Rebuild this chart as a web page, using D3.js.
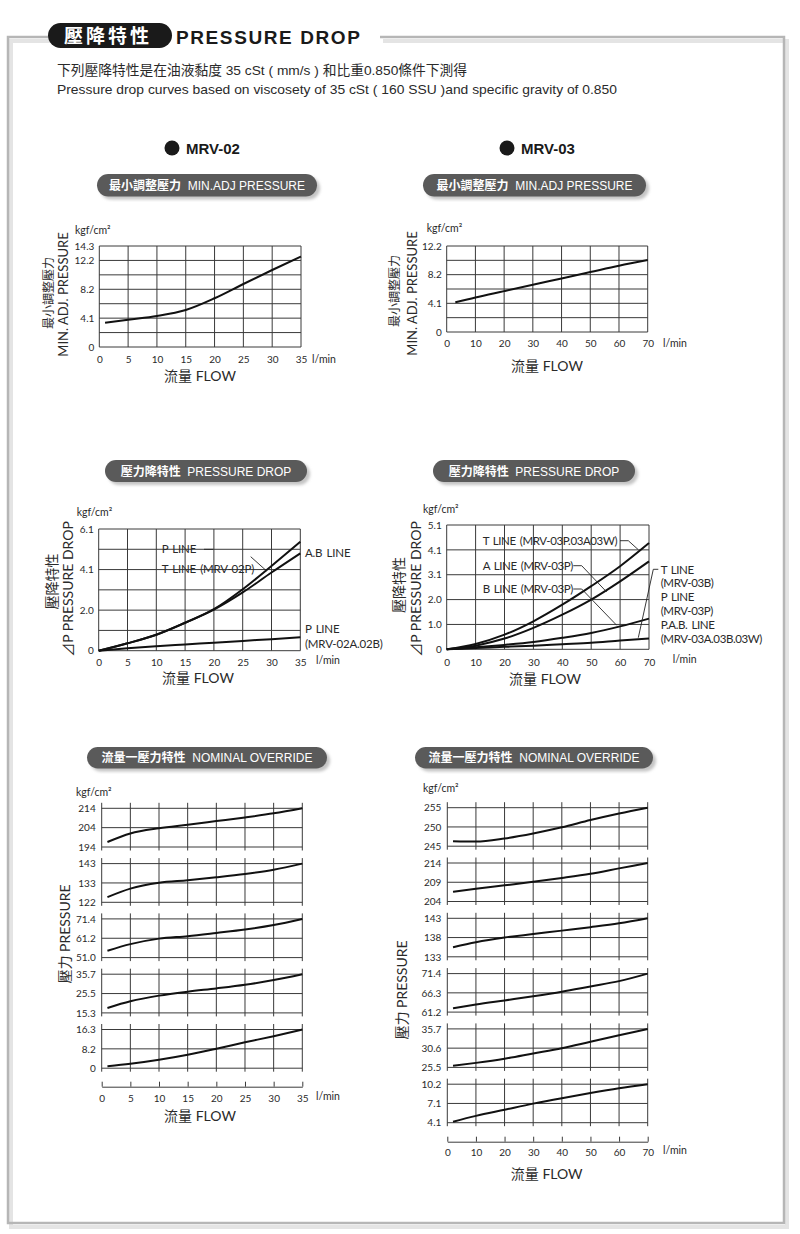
<!DOCTYPE html>
<html><head><meta charset="utf-8">
<script src="https://cdn.jsdelivr.net/npm/d3@7"></script>
<style>
body{margin:0;background:#fff;}
svg{display:block;}
text{font-family:Lato,"Noto Sans CJK TC",sans-serif;}
</style></head><body>
<svg id="c" width="800" height="1234"></svg>
<script>
// ---------------- DATA ----------------
const descZh = "下列壓降特性是在油液黏度 35 cSt ( mm/s ) 和比重0.850條件下測得";
const descEn = "Pressure drop curves based on viscosety of 35 cSt ( 160 SSU )and specific gravity of 0.850";
const models = ["MRV-02", "MRV-03"];

const flow02Ticks = [0,5,10,15,20,25,30,35];
const flow03Ticks = [0,10,20,30,40,50,60,70];

// Min. adj pressure
const minAdj02X = [1,5,10,15,20,25,30,35];
const minAdj02Y = [3.44,3.87,4.39,5.24,6.9,8.92,10.9,12.8];
const minAdj02Labels = ["0","","4.1","","8.2","","12.2","14.3"];

const minAdj03X = [3,10,20,30,40,50,60,70];
const minAdj03Y = [4.2,4.9,5.8,6.7,7.6,8.5,9.4,10.2];
const minAdj03Labels = ["0","","4.1","","8.2","","12.2"];

// Pressure drop
const pd02X = [0,5,10,15,20,25,30,35];
const pd02PT = [0,0.37,0.8,1.4,2.08,3.08,4.25,5.46];
const pd02AB = [0,0.37,0.8,1.4,2.06,2.92,3.92,4.88];
const pd02P  = [0,0.12,0.22,0.31,0.4,0.49,0.58,0.67];
const pd02Labels = ["0","","2.0","","4.1","","6.1"];

const pd03X = [0,10,20,30,40,50,60,70];
const pd03T   = [0,0.22,0.6,1.15,1.83,2.59,3.41,4.36];
const pd03A   = [0,0.15,0.44,0.88,1.42,2.04,2.79,3.61];
const pd03B   = [0,0.08,0.18,0.30,0.47,0.67,0.94,1.26];
const pd03PAB = [0,0.05,0.10,0.15,0.21,0.27,0.36,0.44];
const pd03Labels = ["0","1.0","2.0","3.1","4.1","5.1"];

// Nominal override
const no02X = [1,5,10,15,20,25,30,35];
const no02Ranges = [["194","204","214"],["122","133","143"],["51.0","61.2","71.4"],["15.3","25.5","35.7"],["0","8.2","16.3"]];
const no02Curves = [
  [196.6,201.0,203.7,205.5,207.4,209.3,211.4,214],
  [124.8,129.4,132.6,134.0,135.6,137.4,139.7,143],
  [54.6,58.1,61.0,62.3,64.0,65.8,68.2,71.4],
  [17.9,21.4,24.4,26.5,28.2,30.1,32.6,35.7],
  [0.85,1.84,3.54,5.67,8.2,10.9,13.5,16.3]
];
const no03X = [2,10,20,30,40,50,60,70];
const no03Ranges = [["245","250","255"],["204","209","214"],["133","138","143"],["61.2","66.3","71.4"],["25.5","30.6","35.7"],["4.1","7.1","10.2"]];
const no03Curves = [
  [246.3,246.2,247.0,248.3,249.9,251.8,253.5,255],
  [206.5,207.3,208.2,209.1,210.1,211.2,212.6,214],
  [135.5,136.8,138.0,138.9,139.8,140.7,141.7,143],
  [62.2,63.2,64.3,65.4,66.6,68.0,69.4,71.4],
  [25.95,26.7,27.8,29.2,30.6,32.3,34.0,35.7],
  [4.26,5.18,6.15,7.12,7.99,8.8,9.55,10.2]
];

// ---------------- DRAW ----------------
const svg = d3.select("#c");
const GRID = "#3a3a3a", INK = "#1a1a1a", TXT = "#2a2a2a";
const defs = svg.append("defs");
defs.append("filter").attr("id","blur").append("feGaussianBlur").attr("stdDeviation",1.5);

// frame
const fpath = "M48,37 H8 V1223 H784 V37 H380";
svg.append("path").attr("d",fpath).attr("transform","translate(3,4)").attr("fill","none").attr("stroke","#e4e4e4").attr("stroke-width",4);
svg.append("path").attr("d",fpath).attr("fill","none").attr("stroke","#b6b6b6").attr("stroke-width",2.5);

// title
svg.append("rect").attr("x",48).attr("y",23).attr("width",124).attr("height",25).attr("rx",12.5).attr("fill",INK);
svg.append("text").attr("x",64).attr("y",43).text("壓降特性").attr("fill","#fff").attr("font-size",19).attr("font-weight",700).attr("letter-spacing",3).style("font-family","'Noto Sans CJK TC'");
svg.append("text").attr("x",176).attr("y",44).text("PRESSURE DROP").attr("font-size",19).attr("font-weight",700).attr("letter-spacing",1.6).style("font-family","'Liberation Sans'").attr("fill",INK);

svg.append("text").attr("x",57).attr("y",74.5).text(descZh).attr("font-size",13.5).attr("textLength",410).attr("lengthAdjust","spacingAndGlyphs").style("font-family","'Liberation Sans','Noto Sans CJK TC'").attr("fill",TXT);
svg.append("text").attr("x",57).attr("y",93.5).text(descEn).attr("font-size",13.5).attr("textLength",560).attr("lengthAdjust","spacingAndGlyphs").style("font-family","'Liberation Sans'").attr("fill",TXT);

// model headers
[[172,models[0]],[507,models[1]]].forEach(([cx,name])=>{
  svg.append("circle").attr("cx",cx).attr("cy",148).attr("r",7.5).attr("fill",INK);
  svg.append("text").attr("x",cx+14).attr("y",153.5).text(name).attr("font-size",15).attr("font-weight",700).style("font-family","'Liberation Sans'").attr("fill",INK);
});

function pill(x,y,w,h,zh,en){
  svg.append("rect").attr("x",x+3).attr("y",y+3).attr("width",w).attr("height",h).attr("rx",h/2).attr("fill","#c4c4c4").attr("filter","url(#blur)");
  svg.append("rect").attr("x",x).attr("y",y).attr("width",w).attr("height",h).attr("rx",h/2).attr("fill","#5a5a5a");
  const t = svg.append("text").attr("x",x+w/2).attr("y",y+h/2+4.5).attr("text-anchor","middle").attr("fill","#fff");
  t.append("tspan").text(zh).attr("font-size",12).attr("font-weight",700).style("font-family","'Noto Sans CJK TC'");
  t.append("tspan").text("  "+en).attr("font-size",12).style("font-family","'Liberation Sans'").attr("xml:space","preserve");
}
pill(97,174,220,22.5,"最小調整壓力","MIN.ADJ PRESSURE");
pill(423,174,223,22.5,"最小調整壓力","MIN.ADJ PRESSURE");
pill(105,460,202,22,"壓力降特性","PRESSURE DROP");
pill(433,460,202,22,"壓力降特性","PRESSURE DROP");
pill(87,747,240,21.5,"流量一壓力特性","NOMINAL OVERRIDE");
pill(415,747,238,21.5,"流量一壓力特性","NOMINAL OVERRIDE");

function txt(x,y,s,size,opts={}){
  const t = svg.append("text").attr("x",x).attr("y",y).text(s).attr("font-size",size).attr("fill",opts.fill||TXT);
  if(opts.anchor) t.attr("text-anchor",opts.anchor);
  if(opts.ls) t.attr("letter-spacing",opts.ls);
  if(opts.ws) t.attr("word-spacing",opts.ws);
  if(opts.font) t.style("font-family",opts.font);
  return t;
}
function vtxt(cx,cy,s,size,opts={}){
  return svg.append("text").attr("transform",`translate(${cx},${cy}) rotate(-90)`).attr("text-anchor","middle").attr("dy","0.36em")
    .text(s).attr("font-size",size).attr("fill",opts.fill||TXT).style("font-family",opts.font||null);
}
const lineGen = (x,y)=> d3.line().x(d=>x(d[0])).y(d=>y(d[1])).curve(d3.curveMonotoneX);

function gridChart(c){
  const g = svg.append("g");
  const x = d3.scaleLinear().domain([0,c.xMax]).range([c.x0,c.x1]);
  const y = d3.scaleLinear().domain([0,c.yMax]).range([c.y1,c.y0]);
  const n = c.yLabels.length-1;
  const yVals = c.yLabels.map((d,i)=>i*c.yMax/n);
  g.selectAll(null).data(c.xTicks).join("line").attr("x1",d=>x(d)).attr("x2",d=>x(d)).attr("y1",c.y0).attr("y2",c.y1).attr("stroke",GRID).attr("stroke-width",1);
  g.selectAll(null).data(yVals).join("line").attr("y1",d=>y(d)).attr("y2",d=>y(d)).attr("x1",c.x0).attr("x2",c.x1).attr("stroke",GRID).attr("stroke-width",1);
  const lab = new Map(yVals.map((v,i)=>[v,c.yLabels[i]]));
  g.append("g").attr("transform",`translate(${c.x0},0)`)
    .call(d3.axisLeft(y).tickValues(yVals.filter((v,i)=>c.yLabels[i]!=="")).tickFormat(v=>lab.get(v)).tickSize(0).tickPadding(5))
    .call(a=>a.select(".domain").remove())
    .call(a=>a.selectAll("text").attr("font-size",10).attr("fill",TXT).style("font-family","Lato"));
  g.append("g").attr("transform",`translate(0,${c.y1})`)
    .call(d3.axisBottom(x).tickValues(c.xTicks).tickSize(0))
    .call(a=>a.select(".domain").remove())
    .call(a=>a.selectAll("text").attr("dy",0).attr("y",c.xLabY - c.y1).attr("font-size",10).attr("fill",TXT).style("font-family","Lato"));
  c.series.forEach(s=>{
    g.append("path").datum(s.x.map((v,i)=>[v,s.y[i]])).attr("d",lineGen(x,y)).attr("fill","none").attr("stroke","#111").attr("stroke-width",2);
  });
  return {x,y};
}

// ---- Min adj 02
gridChart({x0:99.3,x1:301,y0:246,y1:347,xMax:35,xTicks:flow02Ticks,yMax:14.3,yLabels:minAdj02Labels,xLabY:363,
  series:[{x:minAdj02X,y:minAdj02Y}]});
txt(75,234,"kgf/cm²",10.5);
txt(312,363,"l/min",10.5);
txt(200,381,"流量 FLOW",14,{anchor:"middle"});
vtxt(49,293,"最小調整壓力",12);
vtxt(63,294.5,"MIN. ADJ. PRESSURE",13);

// ---- Min adj 03
gridChart({x0:446.7,x1:647.7,y0:246,y1:332,xMax:70,xTicks:flow03Ticks,yMax:12.2,yLabels:minAdj03Labels,xLabY:347,
  series:[{x:minAdj03X,y:minAdj03Y}]});
txt(426.7,232,"kgf/cm²",10.5);
txt(663,347,"l/min",10.5);
txt(547,371,"流量 FLOW",14,{anchor:"middle"});
vtxt(395,291,"最小調整壓力",12);
vtxt(412.5,293.5,"MIN. ADJ. PRESSURE",13);

// ---- Pressure drop 02
gridChart({x0:98.7,x1:300.3,y0:529,y1:650.7,xMax:35,xTicks:flow02Ticks,yMax:6.1,yLabels:pd02Labels,xLabY:666,
  series:[{x:pd02X,y:pd02PT},{x:pd02X,y:pd02AB},{x:pd02X,y:pd02P}]});
txt(76.7,516,"kgf/cm²",10.5);
txt(316,664,"l/min",10.5);
txt(198,683,"流量 FLOW",14,{anchor:"middle"});
vtxt(52,581.5,"壓降特性",14);
vtxt(67.5,589,"⊿P PRESSURE DROP",14);
const lf = {ls:-0.2, ws:1.5};
txt(161.7,553.3,"P LINE",11.5,lf);
txt(161.7,572.5,"T LINE (MRV-02P)",11.5,lf);
txt(305,557,"A.B LINE",11.5,lf);
txt(305,633,"P LINE",11.5,lf);
txt(305,648,"(MRV-02A.02B)",11.5,lf);
const leader = pts => svg.append("path").attr("d",d3.line()(pts)).attr("fill","none").attr("stroke","#222").attr("stroke-width",0.9);
leader([[204,549.3],[213.3,549.3]]);
leader([[250.7,556.7],[266.7,571]]);

// ---- Pressure drop 03
gridChart({x0:446.7,x1:649,y0:525,y1:649.3,xMax:70,xTicks:flow03Ticks,yMax:5.1,yLabels:pd03Labels,xLabY:666,
  series:[{x:pd03X,y:pd03T},{x:pd03X,y:pd03A},{x:pd03X,y:pd03B},{x:pd03X,y:pd03PAB}]});
txt(423,513,"kgf/cm²",10.5);
txt(672.7,663,"l/min",10.5);
txt(545,684,"流量 FLOW",14,{anchor:"middle"});
vtxt(399,585,"壓降特性",14);
vtxt(416,589,"⊿P PRESSURE DROP",14);
const lf2 = {ls:-0.4, ws:1.5};
txt(482.7,545,"T LINE (MRV-03P.03A03W)",11.5,lf2);
txt(482.7,570,"A LINE (MRV-03P)",11.5,lf2);
txt(482.7,593.3,"B LINE (MRV-03P)",11.5,lf2);
leader([[620,540.7],[628.3,540.7],[638.3,549.7]]);
leader([[573.3,565.7],[581.7,565.7],[606.7,592]]);
leader([[573.3,589],[581.7,589],[616.7,625.3]]);
leader([[658.3,569.3],[653.3,569.3],[638.3,637.7]]);
["T LINE","(MRV-03B)","P LINE","(MRV-03P)","P.A.B. LINE","(MRV-03A.03B.03W)"].forEach((s,i)=>{
  txt(660.7,573.5+i*13.8,s,11.5,lf2);
});

// ---- Nominal override
function noChart(c){
  const g = svg.append("g");
  const x = d3.scaleLinear().domain([0,c.xMax]).range([c.x0,c.x1]);
  c.ranges.forEach((r,i)=>{
    const top = c.top0 + i*c.pitch, bot = top + c.h;
    const lo = +r[0], hi = +r[2], mid = (lo+hi)/2;
    const y = d3.scaleLinear().domain([lo,hi]).range([bot,top]);
    const sg = g.append("g");
    sg.selectAll(null).data(c.xTicks).join("line").attr("x1",d=>x(d)).attr("x2",d=>x(d)).attr("y1",top-5.5).attr("y2",bot+3.5).attr("stroke",GRID);
    sg.selectAll(null).data([lo,mid,hi]).join("line").attr("y1",d=>y(d)).attr("y2",d=>y(d)).attr("x1",c.x0).attr("x2",c.x1).attr("stroke",GRID);
    const labs = new Map([[lo,r[0]],[mid,r[1]],[hi,r[2]]]);
    sg.append("g").attr("transform",`translate(${c.x0},0)`)
      .call(d3.axisLeft(y).tickValues([lo,mid,hi]).tickFormat(v=>labs.get(v)).tickSize(0).tickPadding(6))
      .call(a=>a.select(".domain").remove())
      .call(a=>a.selectAll("text").attr("font-size",10).attr("fill",TXT).style("font-family","Lato"));
    sg.append("path").datum(c.xs.map((v,j)=>[v,c.curves[i][j]])).attr("d",lineGen(x,y)).attr("fill","none").attr("stroke","#111").attr("stroke-width",2);
  });
  g.append("g").attr("transform",`translate(0,${c.axisY})`)
    .call(d3.axisBottom(x).tickValues(c.xTicks).tickSizeInner(-5).tickSizeOuter(0))
    .call(a=>a.select(".domain").attr("stroke",GRID))
    .call(a=>a.selectAll(".tick line").attr("stroke",GRID))
    .call(a=>a.selectAll("text").attr("dy",0).attr("y",c.labY-c.axisY).attr("font-size",10).attr("fill",TXT).style("font-family","Lato"));
}
noChart({x0:101.7,x1:302.3,top0:808.3,pitch:55.3,h:38.7,xMax:35,xTicks:flow02Ticks,ranges:no02Ranges,curves:no02Curves,xs:no02X,axisY:1086.7,labY:1102});
txt(76,796,"kgf/cm²",10.5);
txt(316,1100,"l/min",10.5);
txt(200,1121,"流量 FLOW",14,{anchor:"middle"});
vtxt(65,934,"壓力 PRESSURE",14);

noChart({x0:447.3,x1:647.7,top0:807.7,pitch:55.3,h:38.5,xMax:70,xTicks:flow03Ticks,ranges:no03Ranges,curves:no03Curves,xs:no03X,axisY:1141.7,labY:1156.5});
txt(423,792,"kgf/cm²",10.5);
txt(663,1154,"l/min",10.5);
txt(546.7,1179,"流量 FLOW",14,{anchor:"middle"});
vtxt(402,990,"壓力 PRESSURE",14);
</script>
</body></html>
